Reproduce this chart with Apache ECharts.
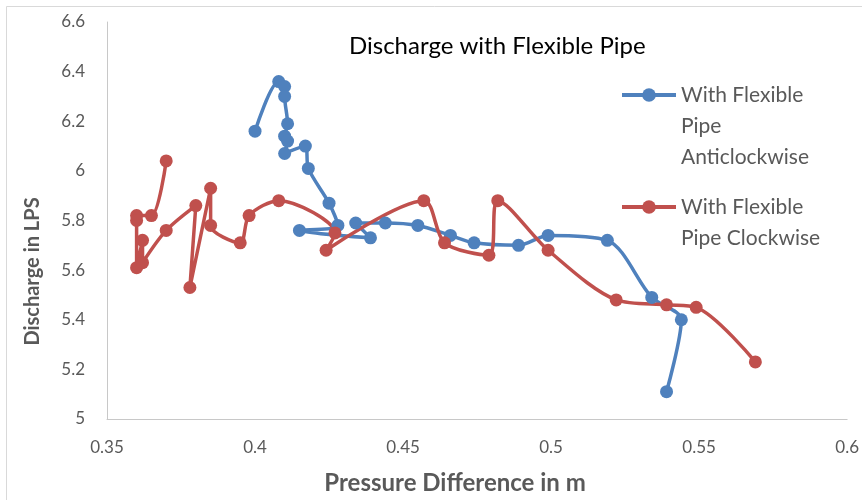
<!DOCTYPE html>
<html>
<head>
<meta charset="utf-8">
<script src="https://cdn.jsdelivr.net/npm/echarts@6/dist/echarts.min.js"></script>
<style>
  html, body { margin: 0; padding: 0; background: #fff; }
  #chart { width: 862px; height: 500px; }
</style>
</head>
<body>
<div id="chart"></div>
<script>
  // pressure difference (m) / discharge (LPS), in plotting order
  var antiX = [0.400, 0.408, 0.410, 0.410, 0.411, 0.410, 0.411, 0.410, 0.417, 0.418, 0.425, 0.428, 0.415, 0.439, 0.434, 0.444, 0.455, 0.466, 0.474, 0.489, 0.499, 0.519, 0.534, 0.544, 0.539];
  var antiY = [6.16, 6.36, 6.34, 6.30, 6.19, 6.14, 6.12, 6.07, 6.10, 6.01, 5.87, 5.78, 5.76, 5.73, 5.79, 5.79, 5.78, 5.74, 5.71, 5.70, 5.74, 5.72, 5.49, 5.40, 5.11];

  var clockX = [0.370, 0.365, 0.360, 0.360, 0.360, 0.362, 0.362, 0.370, 0.380, 0.378, 0.385, 0.385, 0.395, 0.398, 0.408, 0.427, 0.424, 0.457, 0.464, 0.479, 0.482, 0.499, 0.522, 0.539, 0.549, 0.569];
  var clockY = [6.04, 5.82, 5.82, 5.80, 5.61, 5.72, 5.63, 5.76, 5.86, 5.53, 5.93, 5.78, 5.71, 5.82, 5.88, 5.75, 5.68, 5.88, 5.71, 5.66, 5.88, 5.68, 5.48, 5.46, 5.45, 5.23];

  var seriesNames = ['With Flexible Pipe Anticlockwise', 'With Flexible Pipe Clockwise'];
  // leading blank lines keep the first text line level with the legend marker
  var legendText = ['\n\nWith Flexible\nPipe\nAnticlockwise', '\nWith Flexible\nPipe Clockwise'];

  function pairs(xs, ys) {
    return xs.map(function (x, i) { return [x, ys[i]]; });
  }

  var font = 'Lato, "Open Sans", sans-serif';
  var blue = '#4F81BD', red = '#C0504D';
  var myChart = echarts.init(document.getElementById('chart'));

  function legendFor(i, top) {
    return {
      data: [seriesNames[i]],
      orient: 'vertical',
      left: 620,
      top: top,
      padding: 0,
      itemWidth: 54,
      itemHeight: 17,
      lineStyle: { width: 4 },
      formatter: function () { return legendText[i]; },
      textStyle: { fontFamily: font, fontSize: 21, color: '#595959', lineHeight: 31 }
    };
  }

  var option = {
    animation: false,
    backgroundColor: '#fff',
    title: {
      text: 'Discharge with Flexible Pipe',
      left: 344,
      top: 29,
      textStyle: { fontFamily: font, fontSize: 24, fontWeight: 'normal', color: '#000' }
    },
    legend: [legendFor(0, 17.5), legendFor(1, 160.5)],
    grid: { left: 107, right: 14, top: 22, bottom: 80, containLabel: false },
    xAxis: {
      type: 'value',
      min: 0.35,
      max: 0.6,
      interval: 0.05,
      name: 'Pressure Difference in m',
      nameLocation: 'middle',
      nameGap: 52,
      nameTextStyle: { fontFamily: font, fontSize: 24, fontWeight: 'bold', color: '#595959', padding: [0, 44, 0, 0] },
      axisLine: { lineStyle: { color: '#c8c8c8', width: 1 } },
      axisTick: { show: false },
      splitLine: { show: false },
      axisLabel: { fontFamily: font, fontSize: 17, color: '#595959', margin: 20 }
    },
    yAxis: {
      type: 'value',
      min: 5,
      max: 6.6,
      interval: 0.2,
      name: 'Discharge in LPS',
      nameLocation: 'middle',
      nameGap: 64,
      nameTextStyle: { fontFamily: font, fontSize: 20, fontWeight: 'bold', color: '#595959', padding: [0, 102, 0, 0] },
      axisLine: { show: true, lineStyle: { color: '#c8c8c8', width: 1 } },
      axisTick: { show: false },
      splitLine: { show: false },
      axisLabel: {
        fontFamily: font, fontSize: 17, color: '#595959', margin: 22,
        formatter: function (v) { return String(Math.round(v * 10) / 10); }
      }
    },
    graphic: [{
      type: 'rect',
      shape: { x: 6.5, y: 6.5, width: 870, height: 510 },
      style: { fill: 'none', stroke: '#d9d9d9', lineWidth: 1 },
      silent: true
    }],
    series: [{
      name: seriesNames[0],
      type: 'line',
      data: pairs(antiX, antiY),
      smooth: 0.3,
      symbol: 'circle',
      symbolSize: 13,
      color: blue,
      lineStyle: { width: 3.5, color: blue },
      itemStyle: { color: blue }
    }, {
      name: seriesNames[1],
      type: 'line',
      data: pairs(clockX, clockY),
      smooth: 0.3,
      symbol: 'circle',
      symbolSize: 13,
      color: red,
      lineStyle: { width: 3.5, color: red },
      itemStyle: { color: red }
    }]
  };

  myChart.setOption(option);
</script>
</body>
</html>
